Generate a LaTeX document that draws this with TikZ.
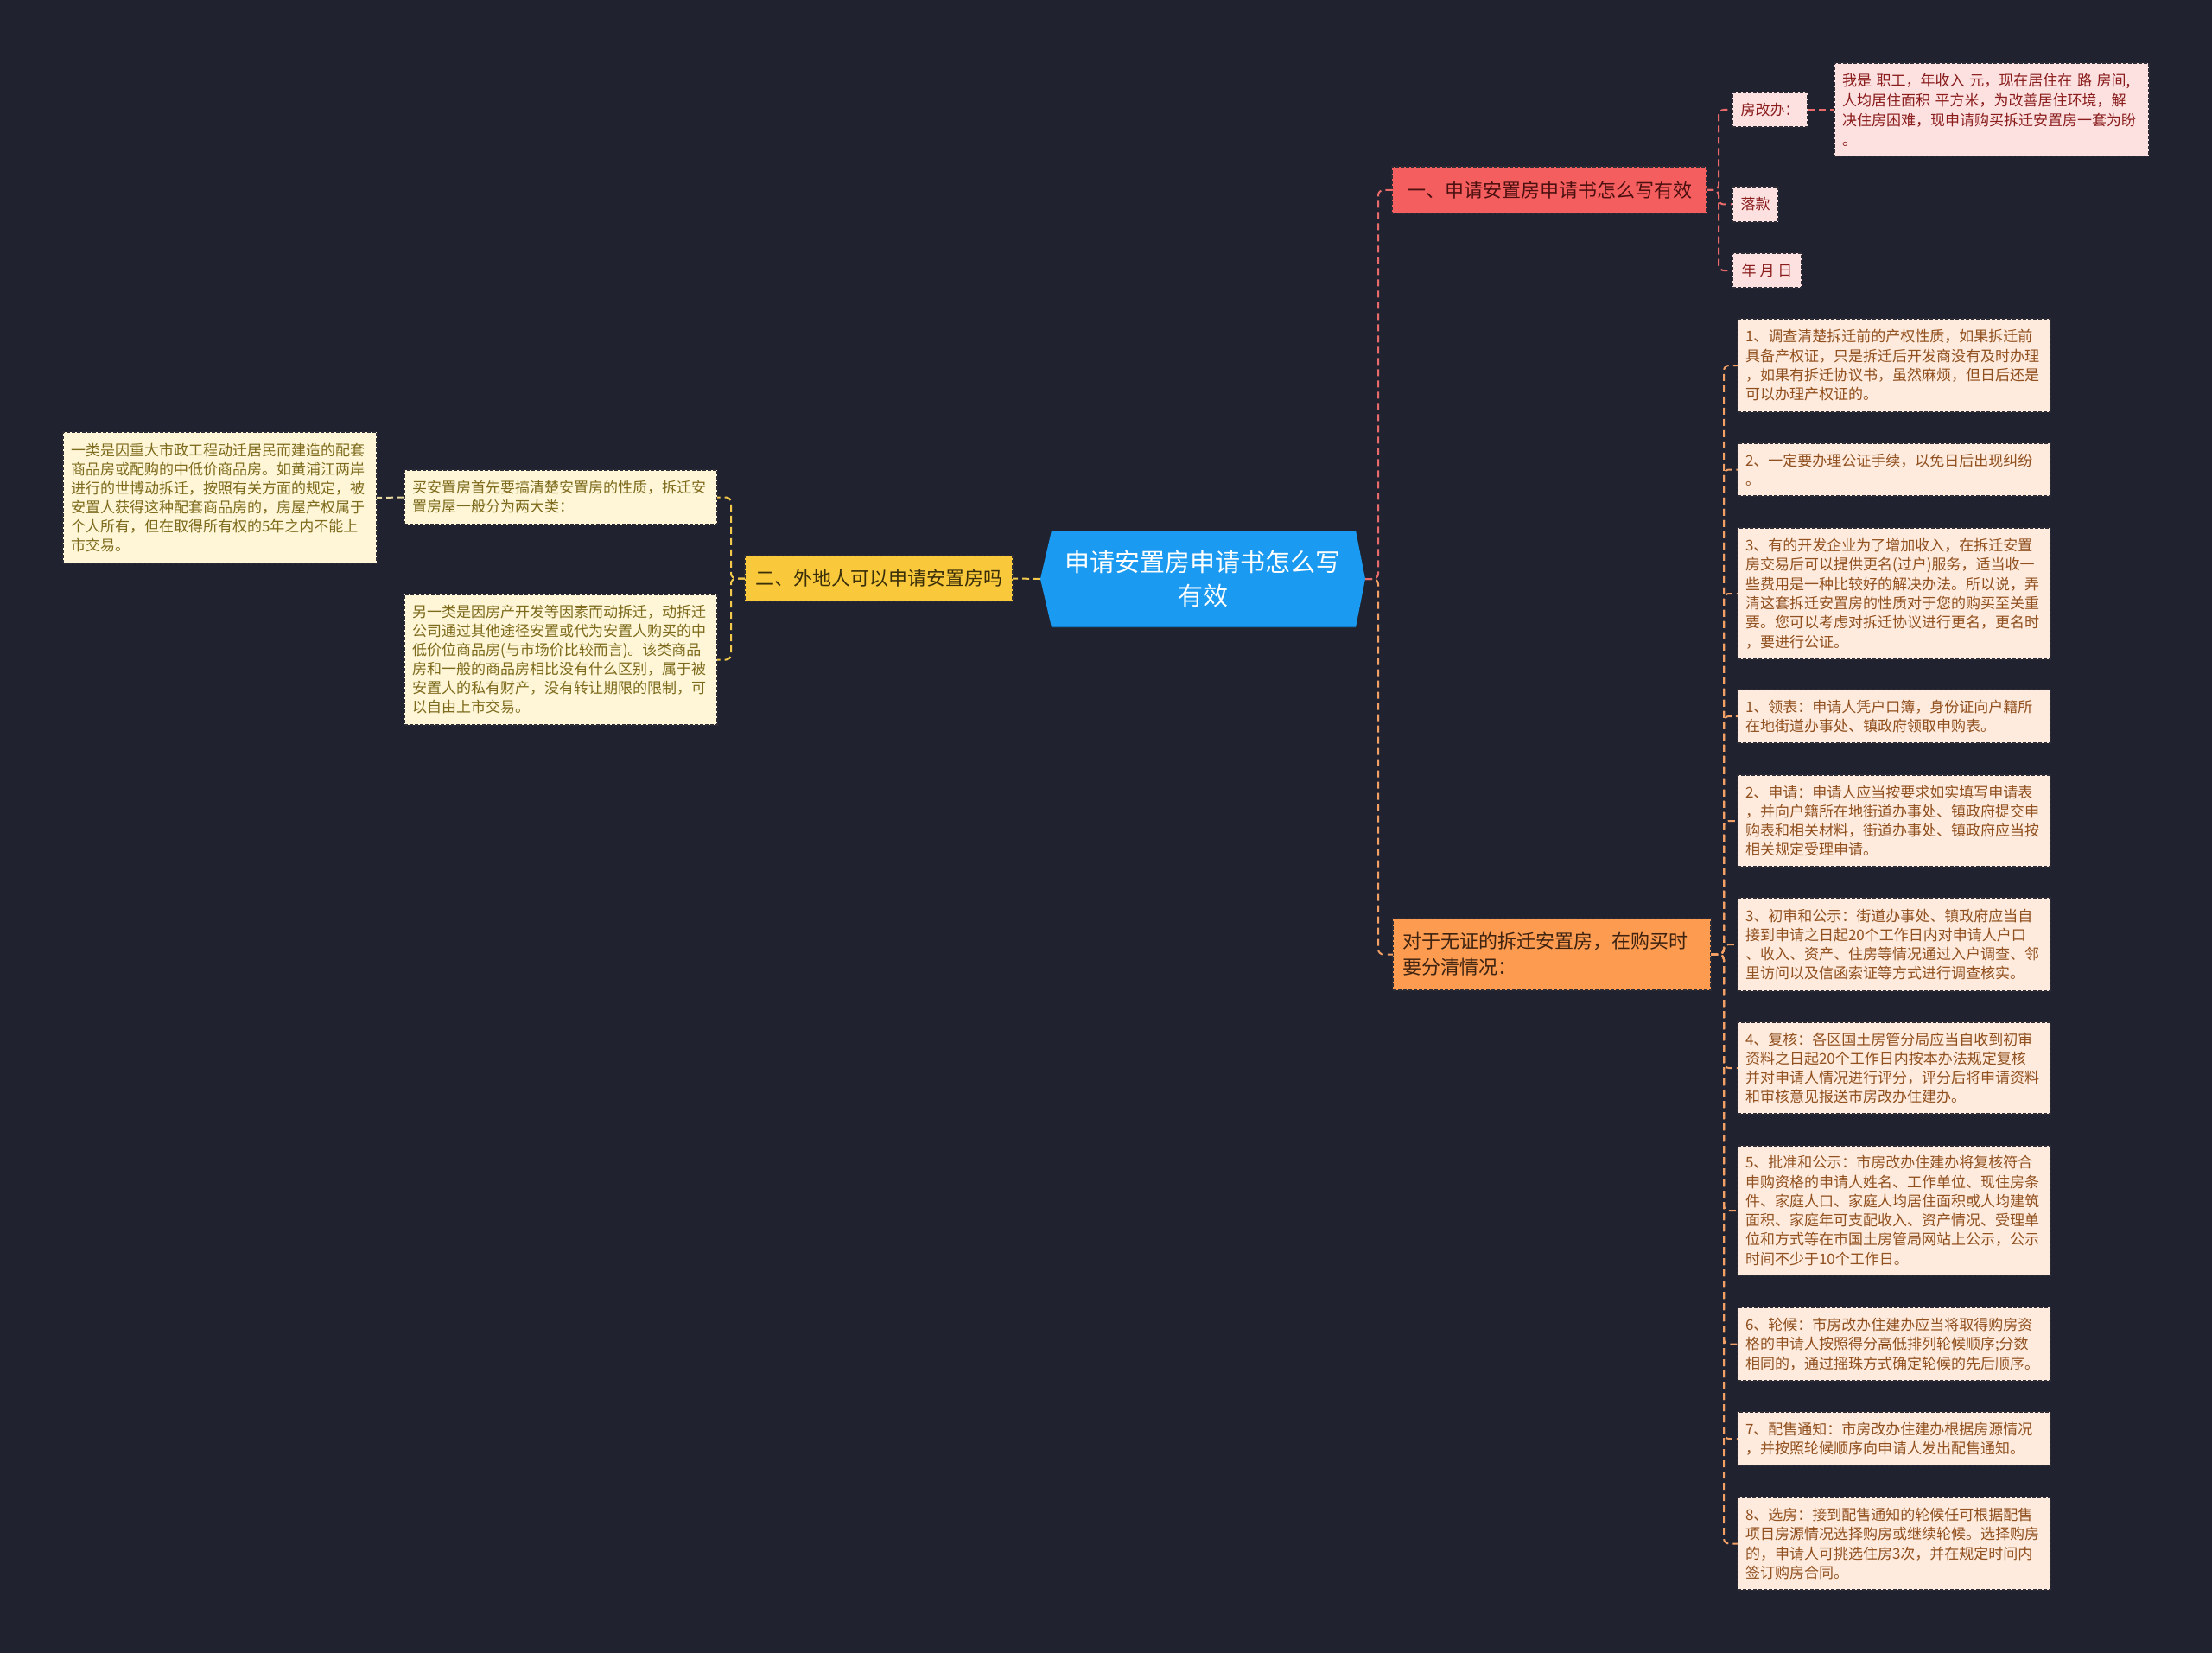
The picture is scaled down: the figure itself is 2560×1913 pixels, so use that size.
\documentclass[tikz,border=0pt]{standalone}
\usepackage{fontspec}
\setmainfont{Noto Sans CJK SC}
\usetikzlibrary{calc}
\definecolor{bg}{HTML}{20232F}
\definecolor{cblue}{HTML}{1A9AF0}
\definecolor{cblued}{HTML}{1277BE}
\definecolor{bdr}{HTML}{2B2C36}
\definecolor{redfill}{HTML}{F45E5E}
\definecolor{redtext}{HTML}{4D1010}
\definecolor{yelfill}{HTML}{F9C93B}
\definecolor{yeltext}{HTML}{3B2F0A}
\definecolor{orafill}{HTML}{FD9B51}
\definecolor{oratext}{HTML}{3D2310}
\definecolor{pinkfill}{HTML}{FDE1E1}
\definecolor{pinktext}{HTML}{8A1C1C}
\definecolor{peachfill}{HTML}{FEEBDD}
\definecolor{peachtext}{HTML}{91501F}
\definecolor{creamfill}{HTML}{FEF6D6}
\definecolor{creamtext}{HTML}{7D6A1C}
\definecolor{lnred}{HTML}{E86A6A}
\definecolor{lnora}{HTML}{F2A066}
\definecolor{lnyel}{HTML}{F2C94C}
\definecolor{lncream}{HTML}{E8D9A0}
\newcommand\fsz[2]{\fontsize{#1}{#2}\selectfont}
\begin{document}
\begin{tikzpicture}[x=1pt,y=-1pt,
  box/.style={draw=bdr, line width=1.3pt, dash pattern=on 4pt off 2pt, anchor=north west,
    inner xsep=9pt, inner ysep=0pt, outer sep=0pt, align=left},
  leafR/.style={box, fill=peachfill, text=peachtext, font=\fsz{17}{22.3}, text width=344pt},
  leafL/.style={box, fill=creamfill, text=creamtext, font=\fsz{17}{22}, text width=344pt},
  leafP/.style={box, fill=pinkfill, text=pinktext, font=\fsz{17}{23}},
  smallP/.style={leafP, align=center, inner xsep=0pt},
  conn/.style={line width=2pt, dash pattern=on 8pt off 5pt, rounded corners=6pt},
  cR/.style={conn, draw=lnred},
  cO/.style={conn, draw=lnora},
  cY/.style={conn, draw=lnyel},
  cC/.style={conn, draw=lncream}
]
\fill[bg] (0,0) rectangle (2560,1913);
\useasboundingbox (0,0) rectangle (2560,1913);

% central
\fill[cblue] (1204,670) -- (1217,614) -- (1569,614) -- (1580,670) -- (1569,726) -- (1217,726) -- cycle;
\draw[cblued, line width=2pt] (1217,725) -- (1569,725);
\node[font=\fsz{29}{39}, text=white, align=center, minimum width=376pt, minimum height=112pt, inner sep=0pt, outer sep=0pt] (c) at (1392,670) {申请安置房申请书怎么写\\有效};

% branches
\node[box, fill=redfill, text=redtext, font=\fsz{22}{30}, align=center, minimum width=364pt, minimum height=54pt, inner xsep=0pt] (b1) at (1611,193) {一、申请安置房申请书怎么写有效};
\node[box, fill=yelfill, text=yeltext, font=\fsz{22}{30}, align=center, minimum width=310pt, minimum height=53pt, inner xsep=0pt] (b2) at (862,643) {二、外地人可以申请安置房吗};
\node[box, fill=orafill, text=oratext, font=\fsz{22}{30}, inner xsep=11pt, text width=346pt, minimum height=83pt] (b3) at (1612,1063) {对于无证的拆迁安置房，在购买时\\要分清情况：};

% branch 1 children
\node[smallP, minimum width=87pt, minimum height=40pt] (f1) at (2005,107) {房改办：};
\node[smallP, minimum width=53pt, minimum height=41pt] (f2) at (2005,216) {落款};
\node[smallP, minimum width=80pt, minimum height=40pt] (f3) at (2005,293) {年 月 日};
\node[leafP, text width=346pt, minimum height=108pt] (f4) at (2123,73) {我是 职工，年收入 元，现在居住在 路 房间,\\人均居住面积 平方米，为改善居住环境，解\\决住房困难，现申请购买拆迁安置房一套为盼\\。};

% branch 3 children
\node[leafR, minimum height=108pt] (r1) at (2011,369) {1、调查清楚拆迁前的产权性质，如果拆迁前\\具备产权证，只是拆迁后开发商没有及时办理\\，如果有拆迁协议书，虽然麻烦，但日后还是\\可以办理产权证的。};
\node[leafR, minimum height=61pt] (r2) at (2011,513) {2、一定要办理公证手续，以免日后出现纠纷\\。};
\node[leafR, minimum height=152pt] (r3) at (2011,611) {3、有的开发企业为了增加收入，在拆迁安置\\房交易后可以提供更名(过户)服务，适当收一\\些费用是一种比较好的解决办法。所以说，弄\\清这套拆迁安置房的性质对于您的购买至关重\\要。您可以考虑对拆迁协议进行更名，更名时\\，要进行公证。};
\node[leafR, minimum height=62pt] (r4) at (2011,798) {1、领表：申请人凭户口簿，身份证向户籍所\\在地街道办事处、镇政府领取申购表。};
\node[leafR, minimum height=106pt] (r5) at (2011,897) {2、申请：申请人应当按要求如实填写申请表\\，并向户籍所在地街道办事处、镇政府提交申\\购表和相关材料，街道办事处、镇政府应当按\\相关规定受理申请。};
\node[leafR, minimum height=108pt] (r6) at (2011,1039) {3、初审和公示：街道办事处、镇政府应当自\\接到申请之日起20个工作日内对申请人户口\\、收入、资产、住房等情况通过入户调查、邻\\里访问以及信函索证等方式进行调查核实。};
\node[leafR, minimum height=106pt] (r7) at (2011,1183) {4、复核：各区国土房管分局应当自收到初审\\资料之日起20个工作日内按本办法规定复核\\并对申请人情况进行评分，评分后将申请资料\\和审核意见报送市房改办住建办。};
\node[leafR, minimum height=150pt] (r8) at (2011,1326) {5、批准和公示：市房改办住建办将复核符合\\申购资格的申请人姓名、工作单位、现住房条\\件、家庭人口、家庭人均居住面积或人均建筑\\面积、家庭年可支配收入、资产情况、受理单\\位和方式等在市国土房管局网站上公示，公示\\时间不少于10个工作日。};
\node[leafR, minimum height=85pt] (r9) at (2011,1513) {6、轮候：市房改办住建办应当将取得购房资\\格的申请人按照得分高低排列轮候顺序;分数\\相同的，通过摇珠方式确定轮候的先后顺序。};
\node[leafR, minimum height=62pt] (r10) at (2011,1634) {7、配售通知：市房改办住建办根据房源情况\\，并按照轮候顺序向申请人发出配售通知。};
\node[leafR, minimum height=107pt] (r11) at (2011,1733) {8、选房：接到配售通知的轮候任可根据配售\\项目房源情况选择购房或继续轮候。选择购房\\的，申请人可挑选住房3次，并在规定时间内\\签订购房合同。};

% branch 2 children
\node[leafL, minimum height=63pt] (l1) at (468,544) {买安置房首先要搞清楚安置房的性质，拆迁安\\置房屋一般分为两大类：};
\node[leafL, minimum height=151pt] (l2) at (468,688) {另一类是因房产开发等因素而动拆迁，动拆迁\\公司通过其他途径安置或代为安置人购买的中\\低价位商品房(与市场价比较而言)。该类商品\\房和一般的商品房相比没有什么区别，属于被\\安置人的私有财产，没有转让期限的限制，可\\以自由上市交易。};
\node[leafL, minimum height=152pt, text width=345pt] (l3) at (73,500) {一类是因重大市政工程动迁居民而建造的配套\\商品房或配购的中低价商品房。如黄浦江两岸\\进行的世博动拆迁，按照有关方面的规定，被\\安置人获得这种配套商品房的，房屋产权属于\\个人所有，但在取得所有权的5年之内不能上\\市交易。};

% connectors
\begin{scope}[on background layer/.style={}]
\end{scope}
\draw[cO] (c.east) -- ++(15,0) |- (b3.west);
\draw[cR] (c.east) -- ++(15,0) |- (b1.west);
\draw[cY] (c.west) -- (b2.east);

\foreach \n in {f1,f2,f3} \draw[cR] (b1.east) -- ++(14,0) |- (\n.west);
\draw[cR] (f1.east) -- (f4.west);

\foreach \n in {r1,r2,r3,r4,r5,r6,r7,r8,r9,r10,r11} \draw[cO] (b3.east) -- ++(15,0) |- (\n.west);

\foreach \n in {l1,l2} \draw[cY] (b2.west) -- ++(-16,0) |- (\n.east);
\draw[cC] (l1.west) -- (l3.east);
\end{tikzpicture}
\end{document}
